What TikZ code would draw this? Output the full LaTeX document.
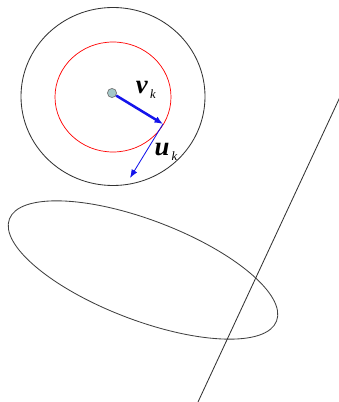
\documentclass[tikz,border=0pt]{standalone}
\usepackage{fontspec}
\setmainfont{Liberation Serif}
\usetikzlibrary{arrows.meta}
\definecolor{dotfill}{RGB}{165,200,200}
\definecolor{vecblue}{RGB}{20,20,235}
\newcommand{\veck}[1]{\textbf{\textit{#1}}\kern1.5pt\raisebox{-0.4ex}{\fontsize{9}{10}\selectfont\textit{k}}}
\tikzset{
  % --- Hinh tron / ellipse --------------------------------------
  outercirc/.style={draw=black!80, line width=0.6pt},
  innercirc/.style={draw=red, line width=0.5pt},
  ellbox/.style={draw=black!75, line width=0.6pt},
  cutline/.style={draw=black!80, line width=0.6pt},
  % --- Vecto -----------------------------------------------------
  ctrdot/.style={circle, draw=black!55, fill=dotfill, inner sep=0pt,
    minimum size=6.5pt, line width=0.5pt},
  vecthick/.style={-{Latex[length=6pt,width=5pt]}, vecblue, line width=1.8pt},
  vecthin/.style={-{Latex[length=6pt,width=4.5pt]}, vecblue, line width=0.6pt},
  veclbl/.style={font=\fontsize{19}{22}\selectfont, inner sep=0pt}
}
\begin{document}
\begin{tikzpicture}[x=0.025cm, y=0.025cm]
  \useasboundingbox (0,0) rectangle (339,402);

  % --- Hai duong tron -------------------------------------------
  \draw[outercirc] (113,305.5) ellipse [x radius=92, y radius=89];
  \draw[innercirc] (113,305) ellipse [x radius=58, y radius=55];

  % --- Tam va vecto ----------------------------------------------
  \node[ctrdot] (C) at (112,309) {};
  \coordinate (P) at (163,278);
  \coordinate (Q) at (130,224);
  \draw[vecthick] (C) -- (P);
  \draw[vecthin] (P) -- (Q);
  \node[veclbl] (VK) at (146,312) {\veck{v}};
  \node[veclbl] (UK) at (166,250) {\veck{u}};

  % --- Ellipse va duong thang -------------------------------------
  \draw[ellbox] (143,132) ellipse [x radius=143, y radius=50, rotate=-20.9];
  \coordinate (LA) at (340,305);
  \coordinate (LB) at (198,0);
  \draw[cutline] (LA) -- (LB);

\end{tikzpicture}
\end{document}
